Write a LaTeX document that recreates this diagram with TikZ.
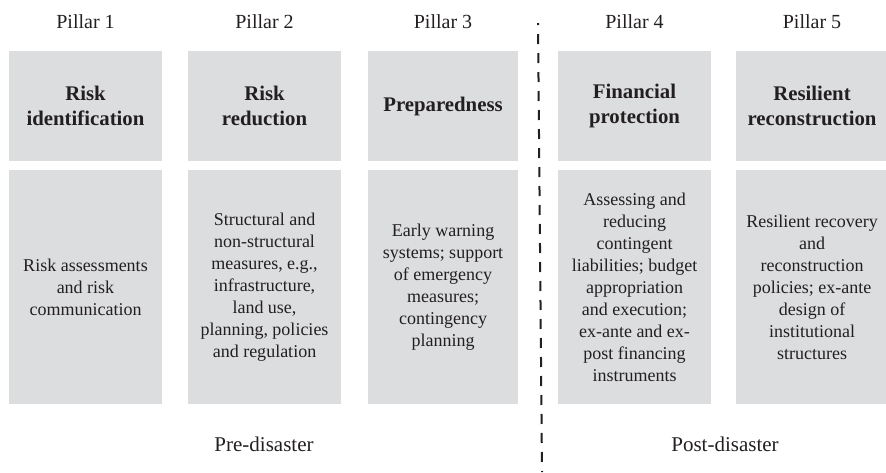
\documentclass[tikz,border=0pt]{standalone}
\usepackage{fontspec}
\setmainfont{Liberation Serif}
\definecolor{boxgray}{RGB}{220,221,223}
\definecolor{ink}{RGB}{35,31,32}

\begin{document}
\begin{tikzpicture}[x=0.5pt, y=-0.5pt,
  head/.style={fill=boxgray, minimum width=76.5pt, minimum height=55pt, inner sep=0pt, align=center, text=ink, font=\fontsize{10.4}{12.8}\selectfont\bfseries},
  body/.style={fill=boxgray, minimum width=76.5pt, minimum height=117pt, inner sep=0pt, align=center, text=ink, font=\fontsize{9}{11}\selectfont},
  pillar/.style={anchor=base, text=ink, font=\fontsize{10}{12}\selectfont},
  phase/.style={anchor=base, text=ink, font=\fontsize{10.5}{12.6}\selectfont}]
\useasboundingbox (0,0) rectangle (886,472);

\node[pillar] (p1) at (85.5,28) {Pillar 1};
\node[pillar] (p2) at (264.5,28) {Pillar 2};
\node[pillar] (p3) at (443,28) {Pillar 3};
\node[pillar] (p4) at (634.5,28) {Pillar 4};
\node[pillar] (p5) at (812,28) {Pillar 5};

\node[head] (h1) at (85.5,106) {Risk\\identification};
\node[head] (h2) at (264.5,106) {Risk\\reduction};
\node[head, minimum width=75pt] (h3) at (443,106) {Preparedness};
\node[head] (h4) at (634.5,106) {Financial\\protection};
\node[head] (h5) at (812,106) {Resilient\\reconstruction};

\node[body] (b1) at (85.5,287) {Risk assessments\\and risk\\communication};
\node[body] (b2) at (264.5,287) {Structural and\\non-structural\\measures, e.g.,\\infrastructure,\\land use,\\planning, policies\\and regulation};
\node[body, minimum width=75pt] (b3) at (443,287) {Early warning\\systems; support\\of emergency\\measures;\\contingency\\planning};
\node[body] (b4) at (634.5,287) {Assessing and\\reducing\\contingent\\liabilities; budget\\appropriation\\and execution;\\ex-ante and ex-\\post financing\\instruments};
\node[body] (b5) at (812,287) {Resilient recovery\\and\\reconstruction\\policies; ex-ante\\design of\\institutional\\structures};

\node[phase] (pre) at (264,451) {Pre-disaster};
\node[phase] (post) at (725,451) {Post-disaster};

% divider between pre- and post-disaster
\coordinate (divtop) at (538,23);
\coordinate (divbot) at (542,472);
\draw[ink, line width=1pt, dash pattern=on 5pt off 4.5pt, dash phase=4pt] (divtop) -- (divbot);
\end{tikzpicture}
\end{document}
